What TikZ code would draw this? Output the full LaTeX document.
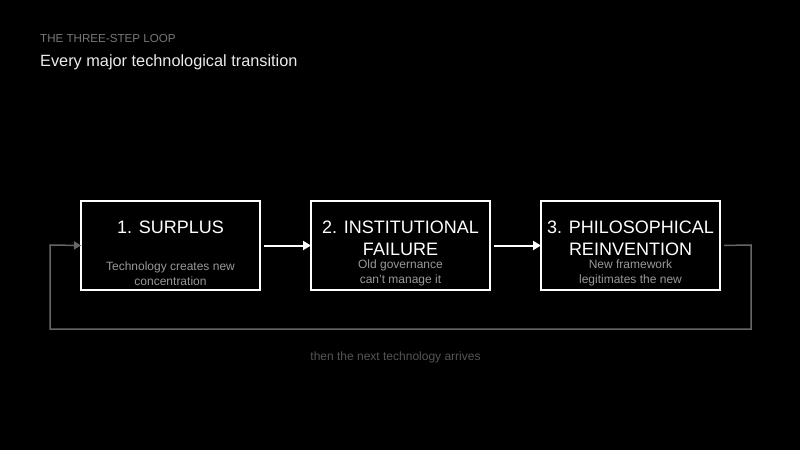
\documentclass[tikz,border=0pt]{standalone}
\usepackage{fontspec}
\setmainfont{Liberation Sans}
\usetikzlibrary{positioning,arrows.meta}
\definecolor{faint}{HTML}{777777}
\definecolor{dimtext}{HTML}{999999}
\definecolor{looptone}{HTML}{666666}
\definecolor{captone}{HTML}{555555}

\begin{document}
\begin{tikzpicture}[x=1pt,y=-1pt,
			stage/.style={rectangle, draw=white, line width=1.5pt, minimum width=179pt, minimum height=89pt, inner sep=0pt, outer sep=0pt},
			headline/.style={text=white, font=\fontsize{18}{21.5}\selectfont, align=center, inner sep=0pt, text depth=0pt},
			note/.style={text=dimtext, font=\fontsize{12}{15}\selectfont, align=center, inner sep=0pt},
			flow/.style={-{Triangle[length=8pt,width=9pt]}, white, line width=2pt, shorten <=4pt},
			loopback/.style={looptone, line width=1.5pt}
		]
		% Background
		\fill[black] (0,0) rectangle (800,450);
		\useasboundingbox (0,0) rectangle (800,450);

		% Heading
		\node[anchor=base west, inner sep=0pt, text=faint, font=\fontsize{11.6}{13}\selectfont] (kicker) at (40,42) {THE THREE-STEP LOOP};
		\node[anchor=base west, inner sep=0pt, text=white!92!black, font=\fontsize{16.3}{19}\selectfont] (lead) at (40,66) {Every major technological transition};

		% Stages
		\node[stage] (surplus) at (170.5,245.5) {};
		\node[stage, right=51 of surplus] (failure) {};
		\node[stage, right=51 of failure] (reinvent) {};

		% Stage texts
		\node[headline, anchor=north] (surplusT) at ([yshift=-20]surplus.north) {1. SURPLUS};
		\node[headline, anchor=north] (failureT) at ([yshift=-20]failure.north) {2. INSTITUTIONAL\\FAILURE};
		\node[headline, anchor=north] (reinventT) at ([yshift=-20]reinvent.north) {3. PHILOSOPHICAL\\REINVENTION};
		\node[note, anchor=south] (surplusN) at ([yshift=4]surplus.south) {Technology creates new\\concentration};
		\node[note, anchor=south] (failureN) at ([yshift=4]failure.south) {Old governance\\can't manage it};
		\node[note, anchor=south] (reinventN) at ([yshift=4]reinvent.south) {New framework\\legitimates the new};

		% Connections
		\draw[flow] (surplus) -- (failure);
		\draw[flow] (failure) -- (reinvent);

		% Loop back
		\coordinate (outR) at (751,245);
		\coordinate (lowR) at (751,329);
		\coordinate (lowL) at (50,329);
		\coordinate (inL) at (50,245);
		\draw[loopback, shorten <=4pt] (reinvent.east) -- (outR) -- (lowR) -- (lowL) -- (inL)
			[-{Triangle[length=7pt,width=8pt]}] -- (surplus.west);
		\node[text=captone, font=\fontsize{12}{14}\selectfont, inner sep=0pt] (again) at (395.5,357) {then the next technology arrives};

	\end{tikzpicture}
\end{document}
